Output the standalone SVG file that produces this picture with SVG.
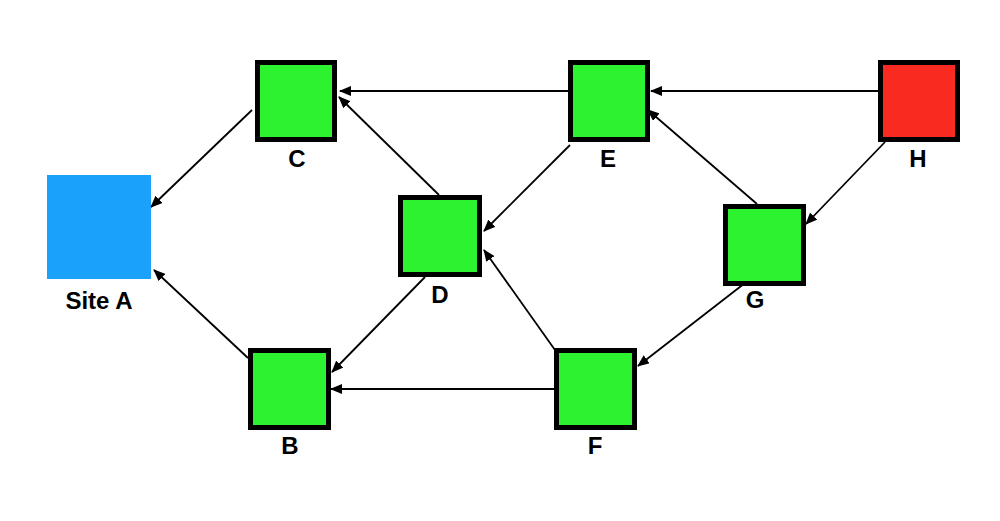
<svg xmlns="http://www.w3.org/2000/svg" width="1000" height="521" viewBox="0 0 1000 521">
<style>
.n{fill:#2cf22f;stroke:#000;stroke-width:5}
.h{fill:#f92b20;stroke:#000;stroke-width:5}
.a{fill:#1aa1fa}
.t{font-family:"Liberation Sans",Arial,sans-serif;font-weight:bold;font-size:24px;fill:#000;text-anchor:middle}
.c{stroke:#000;stroke-width:1.8;fill:none;marker-end:url(#arr)}
</style>
<defs>
<marker id="arr" markerUnits="userSpaceOnUse" markerWidth="12" markerHeight="10" refX="11" refY="5" orient="auto">
<path d="M0,0 L12,5 L0,10 Z" fill="#000"/>
</marker>
</defs>
<rect width="1000" height="521" fill="#fff"/>
<g id="connectors">
<line class="c" x1="568" y1="91" x2="340" y2="91"/>
<line class="c" x1="439" y1="195" x2="339" y2="97"/>
<line class="c" x1="252" y1="110" x2="151" y2="207"/>
<line class="c" x1="248" y1="358" x2="154" y2="270"/>
<line class="c" x1="425" y1="277" x2="332" y2="372"/>
<line class="c" x1="554" y1="389" x2="331" y2="389"/>
<line class="c" x1="555" y1="350" x2="484" y2="250"/>
<line class="c" x1="570" y1="145" x2="484" y2="231"/>
<line class="c" x1="878" y1="91" x2="651" y2="91"/>
<line class="c" x1="757" y1="204" x2="648" y2="110"/>
<line class="c" x1="885" y1="142" x2="806" y2="224"/>
<line class="c" x1="745" y1="283" x2="638" y2="366"/>
</g>
<g id="siteA">
<rect class="a" x="47" y="175" width="104" height="104"/>
<text class="t" x="99" y="309">Site A</text>
</g>
<g id="C">
<rect class="n" x="257.5" y="62.5" width="77" height="77"/>
<text class="t" x="297" y="167">C</text>
</g>
<g id="E">
<rect class="n" x="570.5" y="62.5" width="77" height="77"/>
<text class="t" x="608" y="167">E</text>
</g>
<g id="H">
<rect class="h" x="880.5" y="62.5" width="77" height="77"/>
<text class="t" x="918" y="167">H</text>
</g>
<g id="D">
<rect class="n" x="400.5" y="197.5" width="79" height="77"/>
<text class="t" x="440" y="303">D</text>
</g>
<g id="G">
<rect class="n" x="725.5" y="206.5" width="78" height="77"/>
<text class="t" x="755" y="308">G</text>
</g>
<g id="B">
<rect class="n" x="250.5" y="350.5" width="78" height="77"/>
<text class="t" x="290" y="454">B</text>
</g>
<g id="F">
<rect class="n" x="556.5" y="350.5" width="78" height="77"/>
<text class="t" x="595" y="454">F</text>
</g>
</svg>
